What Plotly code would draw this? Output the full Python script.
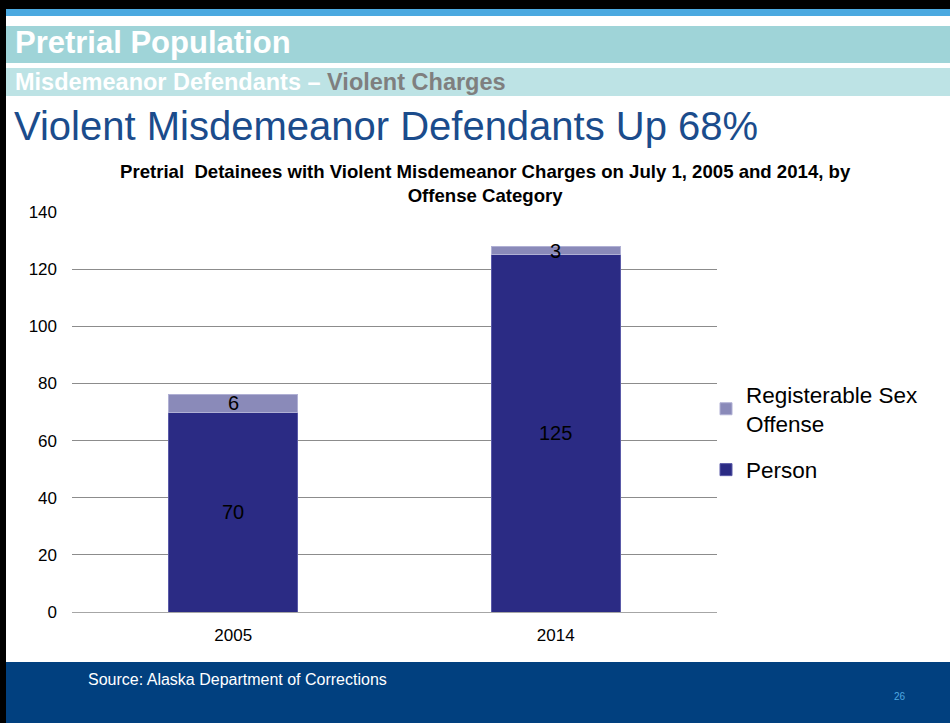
import plotly.graph_objects as go

categories = ["2005", "2014"]
person = [70, 125]
sex_offense = [6, 3]
y_ticks = [0, 20, 40, 60, 80, 100, 120, 140]

W, H = 950, 723
L, R, T, B = 72, 717, 212, 612  # plot area in pixels


def px(x):
    return (x - L) / (R - L)


def py(y):
    return (B - y) / (B - T)


fig = go.Figure()
fig.add_trace(go.Bar(
    name="Person", x=categories, y=person, legendgroup="person", legendrank=2,
    marker=dict(color="#2B2B84", line=dict(color="#5A5AA8", width=1)),
))
fig.add_trace(go.Bar(
    name="Registerable Sex<br>Offense", x=categories, y=sex_offense, legendgroup="sex",
    legendrank=1,
    marker=dict(color="#8A8AB9", line=dict(color="#B0B0D4", width=1)),
))

annotations = []
# data labels, centred in each segment (x given as category index)
for i, (p, s) in enumerate(zip(person, sex_offense)):
    annotations.append(dict(x=i, y=p / 2, xref="x", yref="y", text=str(p),
                            showarrow=False, font=dict(size=20, color="#000000")))
    annotations.append(dict(x=i, y=p + s / 2, xref="x", yref="y", text=str(s),
                            showarrow=False, font=dict(size=20, color="#000000")))

FONT = "Liberation Sans, Arial, sans-serif"
annotations += [
    dict(x=px(13), y=py(43), xref="paper", yref="paper", xanchor="left", yanchor="middle",
         text="<b>Pretrial Population</b>", showarrow=False,
         font=dict(size=31, color="#FFFFFF", family=FONT)),
    dict(x=px(13), y=py(82), xref="paper", yref="paper", xanchor="left", yanchor="middle",
         text="<b>Misdemeanor Defendants – </b><b><span style='color:#7F7F7F'>Violent Charges</span></b>",
         showarrow=False, font=dict(size=23.5, color="#FFFFFF", family=FONT)),
    dict(x=px(12), y=py(126), xref="paper", yref="paper", xanchor="left", yanchor="middle",
         text="Violent Misdemeanor Defendants Up 68%", showarrow=False,
         font=dict(size=40, color="#1B4C8C", family=FONT)),
    dict(x=px(485), y=py(183), xref="paper", yref="paper", xanchor="center", yanchor="middle",
         text="<b>Pretrial  Detainees with Violent Misdemeanor Charges on July 1, 2005 and 2014, by<br>Offense Category</b>",
         showarrow=False, font=dict(size=18.6, color="#000000", family=FONT)),
    dict(x=px(86), y=py(679), xref="paper", yref="paper", xanchor="left", yanchor="middle",
         text="Source: Alaska Department of Corrections", showarrow=False,
         font=dict(size=16, color="#FFFFFF", family=FONT)),
    dict(x=px(900), y=py(696), xref="paper", yref="paper", xanchor="center", yanchor="middle",
         text="26", showarrow=False, font=dict(size=10, color="#4FA8E0", family=FONT)),
]

shapes = [
    dict(type="rect", xref="paper", yref="paper", x0=px(0), x1=px(W), y0=py(0), y1=py(9),
         fillcolor="#000000", line=dict(width=0), layer="below"),
    dict(type="rect", xref="paper", yref="paper", x0=px(0), x1=px(W), y0=py(9), y1=py(16),
         fillcolor="#4BA9E0", line=dict(width=0), layer="below"),
    dict(type="rect", xref="paper", yref="paper", x0=px(0), x1=px(W), y0=py(26), y1=py(63),
         fillcolor="#9FD4D8", line=dict(width=0), layer="below"),
    dict(type="rect", xref="paper", yref="paper", x0=px(0), x1=px(W), y0=py(68), y1=py(96),
         fillcolor="#BDE3E5", line=dict(width=0), layer="below"),
    dict(type="rect", xref="paper", yref="paper", x0=px(0), x1=px(W), y0=py(662), y1=py(H),
         fillcolor="#01407F", line=dict(width=0), layer="below"),
    dict(type="rect", xref="paper", yref="paper", x0=px(0), x1=px(6), y0=py(0), y1=py(H),
         fillcolor="#000000", line=dict(width=0), layer="above"),
]

fig.update_layout(
    width=W, height=H,
    margin=dict(l=L, r=W - R, t=T, b=H - B, pad=0),
    barmode="stack", bargap=0.6,
    paper_bgcolor="#FFFFFF", plot_bgcolor="#FFFFFF",
    font=dict(family=FONT, size=17, color="#000000"),
    showlegend=True,
    legend=dict(x=px(706), y=py(373), xanchor="left", yanchor="top",
                traceorder="grouped", font=dict(size=22.5, color="#000000"),
                bgcolor="rgba(0,0,0,0)", itemwidth=30, tracegroupgap=14),
    xaxis=dict(type="category", showgrid=False, showline=True, linecolor="#A6A6A6",
               linewidth=1, ticks="", tickfont=dict(size=17), ticklabelstandoff=8),
    yaxis=dict(range=[0, 140], tickvals=y_ticks, showgrid=True, gridcolor="#8C8C8C",
               gridwidth=1, showline=False, zeroline=False, ticks="",
               tickfont=dict(size=17), ticklabelstandoff=14),
    annotations=annotations,
    shapes=shapes,
)

fig.write_html(
    "out.html",
    config={"displayModeBar": False},
    post_script="document.body.style.margin='0';document.body.style.overflow='hidden';",
)
